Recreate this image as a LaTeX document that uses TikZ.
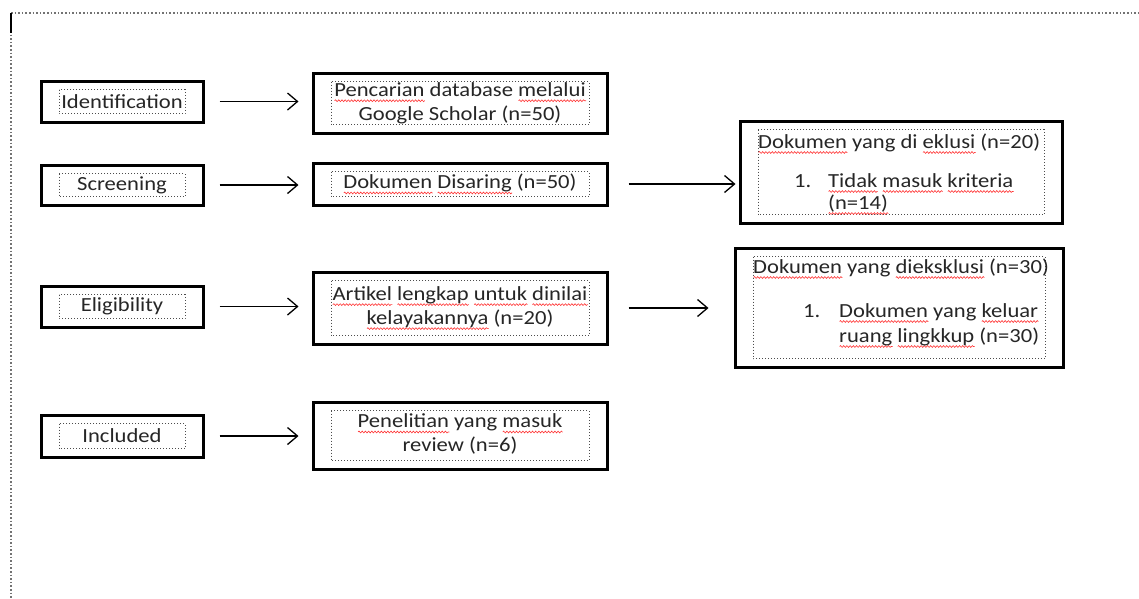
\documentclass[tikz,border=0pt]{standalone}
\usepackage{fontspec}
\setmainfont{Carlito}[FakeStretch=1.13]
\usetikzlibrary{arrows.meta,calc,decorations.pathmorphing}
\newlength\splen
\newcommand\spellerr[1]{\settowidth\splen{#1}\rlap{\tikz[baseline=0pt]\draw[red!80, line width=0.6pt, decorate, decoration={snake, amplitude=0.9pt, segment length=3.2pt}] (0pt,-4.5pt) -- (\splen,-4.5pt);}#1}
\begin{document}
\begin{tikzpicture}[x=1pt,y=-1pt,
  font=\fontsize{20}{24}\selectfont, text=black!85,
  box/.style={draw=black, line width=3pt, inner sep=0pt, align=center,
    path picture={\draw[black!70, dotted, line width=1pt]
      ([shift={(18pt,-8.5pt)}]path picture bounding box.north west) rectangle
      ([shift={(-18pt,8.5pt)}]path picture bounding box.south east);}},
  arr/.style={line width=1.3pt, -{Straight Barb[length=10pt,width=17pt,line width=1.3pt]}},
  page/.style={black!55, dotted, line width=1.6pt},
  lbl/.style={anchor=base west, inner sep=0pt}]
\useasboundingbox (0,0) rectangle (1139,598);
\fill[white] (0,0) rectangle (1139,598);
% page border
\draw[page] (11,13) -- (1139,13);
\draw[page] (11,13) -- (11,598);
\draw[black, line width=2.5pt] (11,13) -- (11,33);
% left column
\node[box, minimum width=162, minimum height=41] (idn) at (122,101.5) {Identification};
\node[box, minimum width=162, minimum height=40] (scr) at (122,185) {Screening};
\node[box, minimum width=162, minimum height=41] (elg) at (122,306.5) {Eligibility};
\node[box, minimum width=162, minimum height=42] (inc) at (122,436) {Included};
% middle column
\node[box, minimum width=294, minimum height=60] (m1) at (460,103)
  {\spellerr{Pencarian} database \spellerr{melalui}\\Google Scholar (n=50)};
\node[box, minimum width=294, minimum height=42] (m2) at (460,184)
  {\spellerr{Dokumen} \spellerr{Disaring} (n=50)};
\node[box, minimum width=294, minimum height=72] (m3) at (460,308)
  {\spellerr{Artikel} \spellerr{lengkap} \spellerr{untuk} \spellerr{dinilai}\\\spellerr{kelayakannya} (n=20)};
\node[box, minimum width=294, minimum height=67] (m4) at (460,435.5) {};
\node[lbl] (m4a) at (m4.center) [anchor=base, yshift=8pt] {\spellerr{Penelitian} yang \spellerr{masuk}};
\node[lbl] (m4b) at (m4.center) [anchor=base, yshift=-16pt] {review (n=6)};
% right column
\node[box, minimum width=322, minimum height=102] (r1) at (901,172) {};
\node[box, minimum width=328, minimum height=119] (r2) at (899,307.5) {};
\node[lbl] (r1a) at (758,148) {\spellerr{Dokumen} yang di \spellerr{eklusi} (n=20)};
\node[lbl] (r1b) at (794,187) {1.};
\node[lbl] (r1c) at (828,187) {\spellerr{Tidak} \spellerr{masuk} \spellerr{kriteria}};
\node[lbl] (r1d) at (828,209) {\spellerr{(n=14)}};
\node[lbl] (r2a) at (753,273) {\spellerr{Dokumen} yang \spellerr{dieksklusi} (n=30)};
\node[lbl] (r2b) at (803,317) {1.};
\node[lbl] (r2c) at (839,317) {\spellerr{Dokumen} yang \spellerr{keluar}};
\node[lbl] (r2d) at (839,342) {\spellerr{ruang} \spellerr{lingkkup} (n=30)};
% connectors
\draw[arr, shorten <=15pt, shorten >=13pt] (idn.east) -- (idn.east -| m1.west);
\draw[arr, shorten <=15pt, shorten >=13pt] (scr.east) -- (scr.east -| m2.west);
\draw[arr, shorten <=15pt, shorten >=13pt] (elg.east) -- (elg.east -| m3.west);
\draw[arr, shorten <=15pt, shorten >=13pt] (inc.east) -- (inc.east -| m4.west);
\draw[arr, shorten <=20pt, shorten >=3pt] (m2.east) -- (m2.east -| r1.west);
\draw[arr, shorten <=20pt, shorten >=25pt] (m3.east) -- (m3.east -| r2.west);
\end{tikzpicture}
\end{document}
